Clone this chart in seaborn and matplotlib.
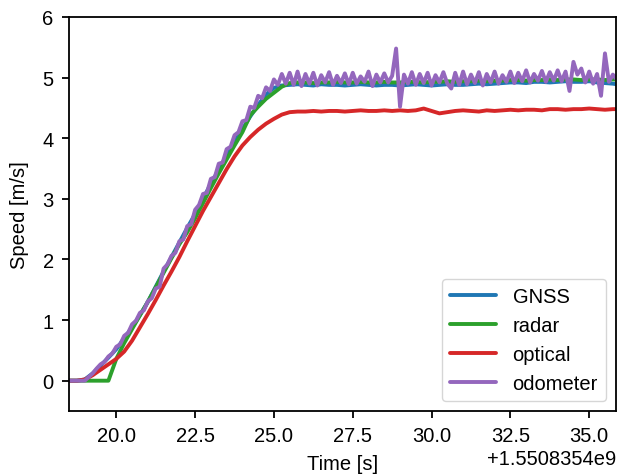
import numpy as np
import pandas as pd
import matplotlib
matplotlib.use("Agg")
import matplotlib.pyplot as plt
from matplotlib.ticker import MultipleLocator
import seaborn as sns

# ---------------- data ----------------
t_base = 1550835400.0
series_names = ["GNSS", "radar", "optical", "odometer"]
series_colors = ["#1f77b4", "#2ca02c", "#d62728", "#9467bd"]

# sample clock for GNSS / radar / optical (s, relative to t_base)
t_slow = np.arange(18.5, 36.0001, 0.25)
# sample clock for odometer
t_odo = np.arange(18.5, 36.0001, 0.125)

gnss = [
    0.00, 0.00, 0.02, 0.12, 0.25, 0.38, 0.52, 0.70,   # 18.5 - 20.25
    0.88, 1.08, 1.30, 1.55, 1.80, 2.04, 2.28, 2.52,   # 20.5 - 22.25
    2.75, 3.00, 3.25, 3.48, 3.72, 3.94, 4.15, 4.36,   # 22.5 - 24.25
    4.55, 4.72, 4.83, 4.87,                           # 24.5 - 25.25
    4.88, 4.89, 4.88, 4.87, 4.89, 4.88, 4.88, 4.87,   # 25.5 - 27.25
    4.88, 4.89, 4.88, 4.87, 4.88, 4.88, 4.87, 4.88,   # 27.5 - 29.25
    4.89, 4.88, 4.87, 4.88, 4.89, 4.88, 4.88, 4.89,   # 29.5 - 31.25
    4.90, 4.89, 4.90, 4.91, 4.92, 4.92, 4.91, 4.93,   # 31.5 - 33.25
    4.93, 4.92, 4.93, 4.94, 4.93, 4.93, 4.94, 4.92,   # 33.5 - 35.25
    4.91, 4.90, 4.88,                                 # 35.5 - 36.0
]

radar = [
    0.00, 0.00, 0.00, 0.00, 0.00, 0.00, 0.36, 0.62,
    0.85, 1.08, 1.30, 1.54, 1.78, 2.02, 2.25, 2.45,
    2.68, 2.93, 3.18, 3.42, 3.65, 3.88, 4.10, 4.38,
    4.52, 4.65, 4.75, 4.85,
    4.91, 4.92, 4.92, 4.91, 4.92, 4.92, 4.93, 4.92,
    4.92, 4.93, 4.92, 4.92, 4.93, 4.92, 4.92, 4.93,
    4.93, 4.92, 4.93, 4.93, 4.94, 4.93, 4.94, 4.94,
    4.95, 4.94, 4.95, 4.95, 4.96, 4.96, 4.95, 4.96,
    4.96, 4.97, 4.96, 4.97, 4.97, 4.96, 4.97, 4.97,
    4.96, 4.97, 4.96,
]

optical = [
    0.00, 0.00, 0.02, 0.09, 0.18, 0.27, 0.36, 0.48,
    0.66, 0.88, 1.10, 1.33, 1.57, 1.80, 2.04, 2.30,
    2.55, 2.80, 3.03, 3.26, 3.49, 3.70, 3.88, 4.02,
    4.14, 4.24, 4.32, 4.39,
    4.43, 4.44, 4.44, 4.45, 4.44, 4.45, 4.45, 4.44,
    4.45, 4.46, 4.45, 4.45, 4.46, 4.45, 4.46, 4.45,
    4.46, 4.49, 4.45, 4.41, 4.43, 4.45, 4.46, 4.45,
    4.44, 4.46, 4.45, 4.46, 4.47, 4.46, 4.47, 4.47,
    4.46, 4.48, 4.48, 4.47, 4.48, 4.48, 4.49, 4.48,
    4.47, 4.48, 4.48,
]

odometer = [
    0.00, 0.00, 0.00, 0.00, 0.00, 0.06, 0.12, 0.20,   # 18.5
    0.27, 0.31, 0.40, 0.45, 0.56, 0.60, 0.74, 0.79,   # 19.5
    0.93, 0.99, 1.12, 1.16, 1.31, 1.36, 1.52, 1.55,   # 20.5
    1.85, 1.92, 2.06, 2.11, 2.30, 2.33, 2.55, 2.58,   # 21.5
    2.82, 2.90, 3.08, 3.10, 3.33, 3.36, 3.58, 3.60,   # 22.5
    3.82, 3.86, 4.05, 4.10, 4.28, 4.30, 4.52, 4.50,   # 23.5
    4.70, 4.66, 4.84, 4.78, 4.97, 4.88, 5.06, 4.90,   # 24.5
    5.08, 4.88, 5.10, 4.86, 5.06, 4.90, 5.08, 4.87,   # 25.5
    5.04, 4.92, 5.09, 4.88, 5.03, 4.91, 5.07, 4.89,   # 26.5
    5.08, 4.90, 5.02, 4.93, 5.10, 4.86, 5.05, 4.92,   # 27.5
    5.07, 4.92, 5.03, 5.48, 4.52, 5.05, 4.90, 5.09,   # 28.5
    4.88, 5.06, 4.91, 5.08, 4.87, 5.04, 4.92, 5.09,   # 29.5
    4.90, 4.82, 5.08, 4.88, 5.10, 4.89, 5.05, 4.91,   # 30.5
    5.09, 4.87, 5.06, 4.92, 5.10, 4.90, 5.04, 4.93,   # 31.5
    5.10, 4.91, 5.08, 4.94, 5.12, 4.92, 5.06, 4.95,   # 32.5
    5.11, 4.93, 5.09, 4.95, 5.12, 4.94, 5.10, 4.78,   # 33.5
    5.26, 5.05, 5.15, 4.92, 5.10, 4.90, 5.06, 4.70,   # 34.5
    5.40, 4.93, 5.05, 4.97, 5.02,                     # 35.5
]

# ---------------- plot ----------------
sns.set_style("ticks")
plt.rcParams["font.family"] = ["Liberation Sans", "DejaVu Sans"]
plt.rcParams["axes.linewidth"] = 1.3
plt.rcParams["xtick.major.width"] = 1.3
plt.rcParams["ytick.major.width"] = 1.3
plt.rcParams["xtick.major.size"] = 5
plt.rcParams["ytick.major.size"] = 5
plt.rcParams["xtick.major.pad"] = 6
plt.rcParams["ytick.major.pad"] = 6
plt.rcParams["axes.edgecolor"] = "black"
plt.rcParams["text.color"] = "black"
plt.rcParams["axes.labelcolor"] = "black"
plt.rcParams["xtick.color"] = "black"
plt.rcParams["ytick.color"] = "black"

FS = 14.5

fig = plt.figure(figsize=(6.19, 4.77), dpi=100)
ax = fig.add_axes([69 / 619, 65 / 477, 547 / 619, 394 / 477])

data = [
    (t_slow, gnss),
    (t_slow, radar),
    (t_slow, optical),
    (t_odo, odometer),
]
for (tt, vals), name, col in zip(data, series_names, series_colors):
    df = pd.DataFrame({"time": t_base + np.asarray(tt), "speed": vals})
    sns.lineplot(data=df, x="time", y="speed", ax=ax, color=col,
                 linewidth=2.8, label=name, estimator=None, sort=False)

ax.set_xlim(t_base + 18.5, t_base + 35.85)
ax.set_ylim(-0.5, 6)
ax.xaxis.set_major_locator(MultipleLocator(2.5))
ax.set_xlabel("Time [s]", fontsize=FS, labelpad=6)
ax.set_ylabel("Speed [m/s]", fontsize=FS, labelpad=10)
ax.tick_params(labelsize=FS)
ax.xaxis.get_offset_text().set_fontsize(FS)

leg = ax.legend(loc="lower right", fontsize=FS, frameon=True,
                handlelength=2.3, borderaxespad=0.5)
leg.get_frame().set_edgecolor("#cccccc")

fig.savefig("out.png", dpi=100)
